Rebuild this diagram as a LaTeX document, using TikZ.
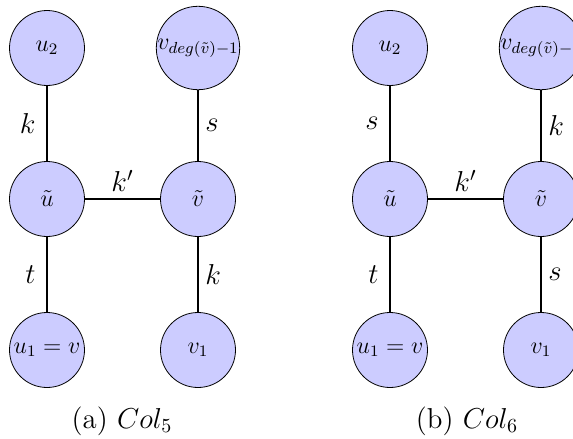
\documentclass[tikz,border=0pt]{standalone}
\begin{document}
\begin{tikzpicture}[x=0.5pt,y=-0.5pt,
  vertex/.style={circle,draw=black,line width=0.4pt,fill=blue!20,minimum size=37.5pt,inner sep=0pt,font=\large},
  link/.style={line width=0.8pt},
  lbl/.style={font=\Large},
  captiontext/.style={font=\Large}]
\useasboundingbox (0,0) rectangle (573,439);
% (a) Col_5
\node[vertex] (a2)  at (47,48)   {$u_2$};
\node[vertex] (avd) at (198,48)  {$v_{deg(\tilde{v})-1}$};
\node[vertex] (au)  at (47,199)  {$\tilde{u}$};
\node[vertex] (av)  at (198,199) {$\tilde{v}$};
\node[vertex] (a1)  at (47,350)  {$u_1=v$};
\node[vertex] (av1) at (198,350) {$v_1$};
\draw[link] (a2) -- node[lbl,left,xshift=-2pt] {$k$} (au);
\draw[link] (avd) -- node[lbl,right] {$s$} (av);
\draw[link] (au) -- node[lbl,above] {$k'$} (av);
\draw[link] (au) -- node[lbl,left,xshift=-2pt] {$t$} (a1);
\draw[link] (av) -- node[lbl,right] {$k$} (av1);
\node[captiontext] (capa) at (122,421) {(a) $Col_5$};
% (b) Col_6
\node[vertex] (b2)  at (390,48)  {$u_2$};
\node[vertex] (bvd) at (541,48)  {$v_{deg(\tilde{v})-1}$};
\node[vertex] (bu)  at (390,199) {$\tilde{u}$};
\node[vertex] (bv)  at (541,199) {$\tilde{v}$};
\node[vertex] (b1)  at (390,350) {$u_1=v$};
\node[vertex] (bv1) at (541,350) {$v_1$};
\draw[link] (b2) -- node[lbl,left,xshift=-2pt] {$s$} (bu);
\draw[link] (bvd) -- node[lbl,right] {$k$} (bv);
\draw[link] (bu) -- node[lbl,above] {$k'$} (bv);
\draw[link] (bu) -- node[lbl,left,xshift=-2pt] {$t$} (b1);
\draw[link] (bv) -- node[lbl,right] {$s$} (bv1);
\node[captiontext] (capb) at (467,421) {(b) $Col_6$};
\end{tikzpicture}
\end{document}
